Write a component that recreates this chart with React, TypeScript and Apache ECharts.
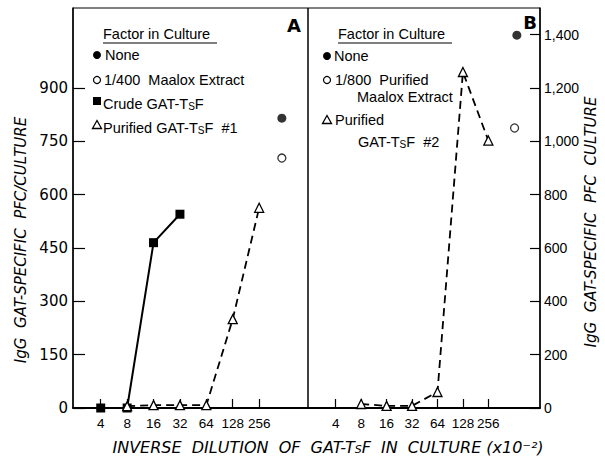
import React, { useEffect, useRef } from "react";
import * as echarts from "echarts";

// ---- data ----
const dilutionTicks = [4, 8, 16, 32, 64, 128, 256];
const leftTicks = [0, 150, 300, 450, 600, 750, 900];
const rightTicks = [0, 200, 400, 600, 800, 1000, 1200, 1400];

// Panel A
const crudeDilutions = [4, 8, 16, 32];
const crudeValues = [0, 0, 465, 545];
const purified1Dilutions = [8, 16, 32, 64, 128, 256];
const purified1Values = [5, 8, 8, 8, 250, 563];
const controlPosA = 8.86; // position (log2 units) of control points, right of 256
const noneA = 815;
const maaloxA = 703;

// Panel B
const purified2Dilutions = [8, 16, 32, 64, 128, 256];
const purified2Values = [15, 8, 8, 60, 1260, 1003];
const controlPosNoneB = 9.12;
const controlPosMaaloxB = 9.03;
const noneB = 1398;
const maaloxB = 1050;

const FONT = "DejaVu Sans";
const LFONT = "Liberation Sans";
const LSIZE = 14.5;

const toPts = (ds: number[], vs: number[]) => ds.map((d, i) => [Math.log2(d), vs[i]]);

export default function App() {
  const ref = useRef<HTMLDivElement>(null);
  useEffect(() => {
    if (!ref.current) return;
    const chart = echarts.init(ref.current, null, { renderer: "svg" });
    const tickVals = dilutionTicks.map((d) => Math.log2(d));
    const xAxisBase = (gridIndex: number, min: number, max: number) => ({
      type: "value",
      gridIndex,
      min,
      max,
      axisLine: { show: true, lineStyle: { color: "#000", width: 2 } },
      axisTick: { show: true, inside: true, length: 9, customValues: tickVals, lineStyle: { color: "#000", width: 1.2 } },
      axisLabel: {
        customValues: tickVals,
        formatter: (v: number) => String(Math.round(Math.pow(2, v))),
        color: "#000",
        fontFamily: LFONT,
        fontSize: 13.5,
        margin: 8,
      },
      splitLine: { show: false },
    });
    const legendText = (x: number, y: number, text: string, rich?: any) => ({
      type: "text",
      x,
      y,
      style: {
        text,
        fill: "#000",
        font: `${LSIZE}px ${LFONT}`,
        align: "left",
        verticalAlign: "middle",
        rich: rich,
      },
    });
    const richSub = {
      n: { fontSize: LSIZE, fontFamily: LFONT, lineHeight: 18, verticalAlign: "bottom" },
      s: { fontSize: 10, fontFamily: LFONT, lineHeight: 11, verticalAlign: "bottom" },
    };
    const tri = (cx: number, cy: number) => ({
      type: "polygon",
      shape: { points: [[cx, cy - 4.5], [cx - 4.5, cy + 3.5], [cx + 4.5, cy + 3.5]] },
      style: { fill: "#fff", stroke: "#000", lineWidth: 1.3 },
    });
    const option: any = {
      animation: false,
      backgroundColor: "#fff",
      grid: [
        { left: 73, top: 8, width: 235, height: 400, show: true, borderColor: "#000", borderWidth: 1 },
        { left: 308, top: 8, width: 232, height: 400, show: true, borderColor: "#000", borderWidth: 1 },
      ],
      xAxis: [xAxisBase(0, 0.95, 9.85), xAxisBase(1, 0.91, 10.03)],
      yAxis: [
        {
          type: "value",
          gridIndex: 0,
          position: "left",
          min: 0,
          max: 1125,
          axisLine: { show: true, lineStyle: { color: "#000", width: 1.5 } },
          axisTick: { show: true, inside: true, length: 12, customValues: leftTicks, lineStyle: { color: "#000", width: 1.2 } },
          axisLabel: { customValues: leftTicks, color: "#000", fontFamily: FONT, fontSize: 15, margin: 5 },
          splitLine: { show: false },
        },
        {
          type: "value",
          gridIndex: 1,
          position: "right",
          min: 0,
          max: 1500,
          axisLine: { show: true, lineStyle: { color: "#000", width: 1.5 } },
          axisTick: { show: true, inside: true, length: 10, customValues: rightTicks, lineStyle: { color: "#000", width: 1.2 } },
          axisLabel: {
            customValues: rightTicks,
            color: "#000",
            fontFamily: LFONT,
            fontSize: 14,
            margin: 4,
            formatter: (v: number) => (v >= 1000 ? `${Math.floor(v / 1000)},${String(v % 1000).padStart(3, "0")}` : String(v)),
          },
          splitLine: { show: false },
        },
      ],
      series: [
        {
          type: "line",
          xAxisIndex: 0,
          yAxisIndex: 0,
          data: toPts(crudeDilutions, crudeValues),
          symbol: "rect",
          symbolSize: 9,
          lineStyle: { color: "#000", width: 2 },
          itemStyle: { color: "#000" },
          z: 3,
        },
        {
          type: "line",
          xAxisIndex: 0,
          yAxisIndex: 0,
          data: toPts(purified1Dilutions, purified1Values),
          symbol: "triangle",
          symbolSize: 9,
          lineStyle: { color: "#000", width: 1.8, type: [8, 5] },
          itemStyle: { color: "#fff", borderColor: "#000", borderWidth: 1.3 },
          z: 4,
        },
        {
          type: "scatter",
          xAxisIndex: 0,
          yAxisIndex: 0,
          data: [[controlPosA, noneA]],
          symbol: "circle",
          symbolSize: 9,
          itemStyle: { color: "#000" },
        },
        {
          type: "scatter",
          xAxisIndex: 0,
          yAxisIndex: 0,
          data: [[controlPosA, maaloxA]],
          symbol: "circle",
          symbolSize: 8,
          itemStyle: { color: "#fff", borderColor: "#000", borderWidth: 1.3 },
        },
        {
          type: "line",
          xAxisIndex: 1,
          yAxisIndex: 1,
          data: toPts(purified2Dilutions, purified2Values),
          symbol: "triangle",
          symbolSize: 9,
          lineStyle: { color: "#000", width: 1.8, type: [8, 5] },
          itemStyle: { color: "#fff", borderColor: "#000", borderWidth: 1.3 },
        },
        {
          type: "scatter",
          xAxisIndex: 1,
          yAxisIndex: 1,
          data: [[controlPosNoneB, noneB]],
          symbol: "circle",
          symbolSize: 9,
          itemStyle: { color: "#000" },
        },
        {
          type: "scatter",
          xAxisIndex: 1,
          yAxisIndex: 1,
          data: [[controlPosMaaloxB, maaloxB]],
          symbol: "circle",
          symbolSize: 8,
          itemStyle: { color: "#fff", borderColor: "#000", borderWidth: 1.3 },
        },
      ],
      graphic: [
        // Panel labels
        { type: "text", x: 294, y: 25, style: { text: "A", font: `bold 18px ${FONT}`, fill: "#000", align: "center", verticalAlign: "middle" } },
        { type: "text", x: 530, y: 22, style: { text: "B", font: `bold 18px ${FONT}`, fill: "#000", align: "center", verticalAlign: "middle" } },
        // Legend A
        legendText(103, 34, "Factor in Culture"),
        { type: "line", shape: { x1: 103, y1: 43, x2: 217, y2: 43 }, style: { stroke: "#000", lineWidth: 1.2 } },
        { type: "circle", shape: { cx: 97, cy: 55, r: 4 }, style: { fill: "#000" } },
        legendText(105, 55, "None"),
        { type: "circle", shape: { cx: 97, cy: 80, r: 3.5 }, style: { fill: "#fff", stroke: "#000", lineWidth: 1.2 } },
        legendText(104, 80, "1/400  Maalox Extract"),
        { type: "rect", shape: { x: 93, y: 97, width: 8, height: 8 }, style: { fill: "#000" } },
        legendText(103, 102, "{n|Crude GAT-T}{s|S}{n|F}", richSub),
        tri(97, 125),
        legendText(103, 126, "{n|Purified GAT-T}{s|S}{n|F  #1}", richSub),
        // Legend B
        legendText(338, 34, "Factor in Culture"),
        { type: "line", shape: { x1: 338, y1: 43, x2: 452, y2: 43 }, style: { stroke: "#000", lineWidth: 1.2 } },
        { type: "circle", shape: { cx: 327, cy: 56, r: 4 }, style: { fill: "#000" } },
        legendText(334, 56, "None"),
        { type: "circle", shape: { cx: 327, cy: 80, r: 3.5 }, style: { fill: "#fff", stroke: "#000", lineWidth: 1.2 } },
        legendText(335, 80, "1/800  Purified"),
        legendText(357, 97, "Maalox Extract"),
        tri(327, 120),
        legendText(335, 120, "Purified"),
        legendText(358, 140, "{n|GAT-T}{s|S}{n|F  #2}", richSub),
        // Axis titles
        {
          type: "text",
          x: 21,
          y: 240,
          rotation: Math.PI / 2,
          style: { text: "IgG  GAT-SPECIFIC  PFC/CULTURE", font: `italic 15px ${FONT}`, fill: "#000", align: "center", verticalAlign: "middle" },
        },
        {
          type: "text",
          x: 591,
          y: 222,
          rotation: Math.PI / 2,
          style: { text: "IgG  GAT-SPECIFIC  PFC  CULTURE", font: `italic 15px ${FONT}`, fill: "#000", align: "center", verticalAlign: "middle" },
        },
        {
          type: "text",
          x: 328,
          y: 445,
          style: {
            text: "{n|INVERSE  DILUTION  OF  GAT-T}{s|S}{n|F  IN  CULTURE (x10⁻²)}",
            fill: "#000",
            align: "center",
            verticalAlign: "middle",
            rich: {
              n: { font: `italic 16px ${FONT}`, lineHeight: 20, verticalAlign: "bottom" },
              s: { font: `italic 11px ${FONT}`, lineHeight: 12, verticalAlign: "bottom" },
            },
          },
        },
      ],
    };
    chart.setOption(option);
    return () => chart.dispose();
  }, []);
  return <div ref={ref} style={{ width: 605, height: 460, position: "absolute", left: 0, top: 0 }} />;
}
